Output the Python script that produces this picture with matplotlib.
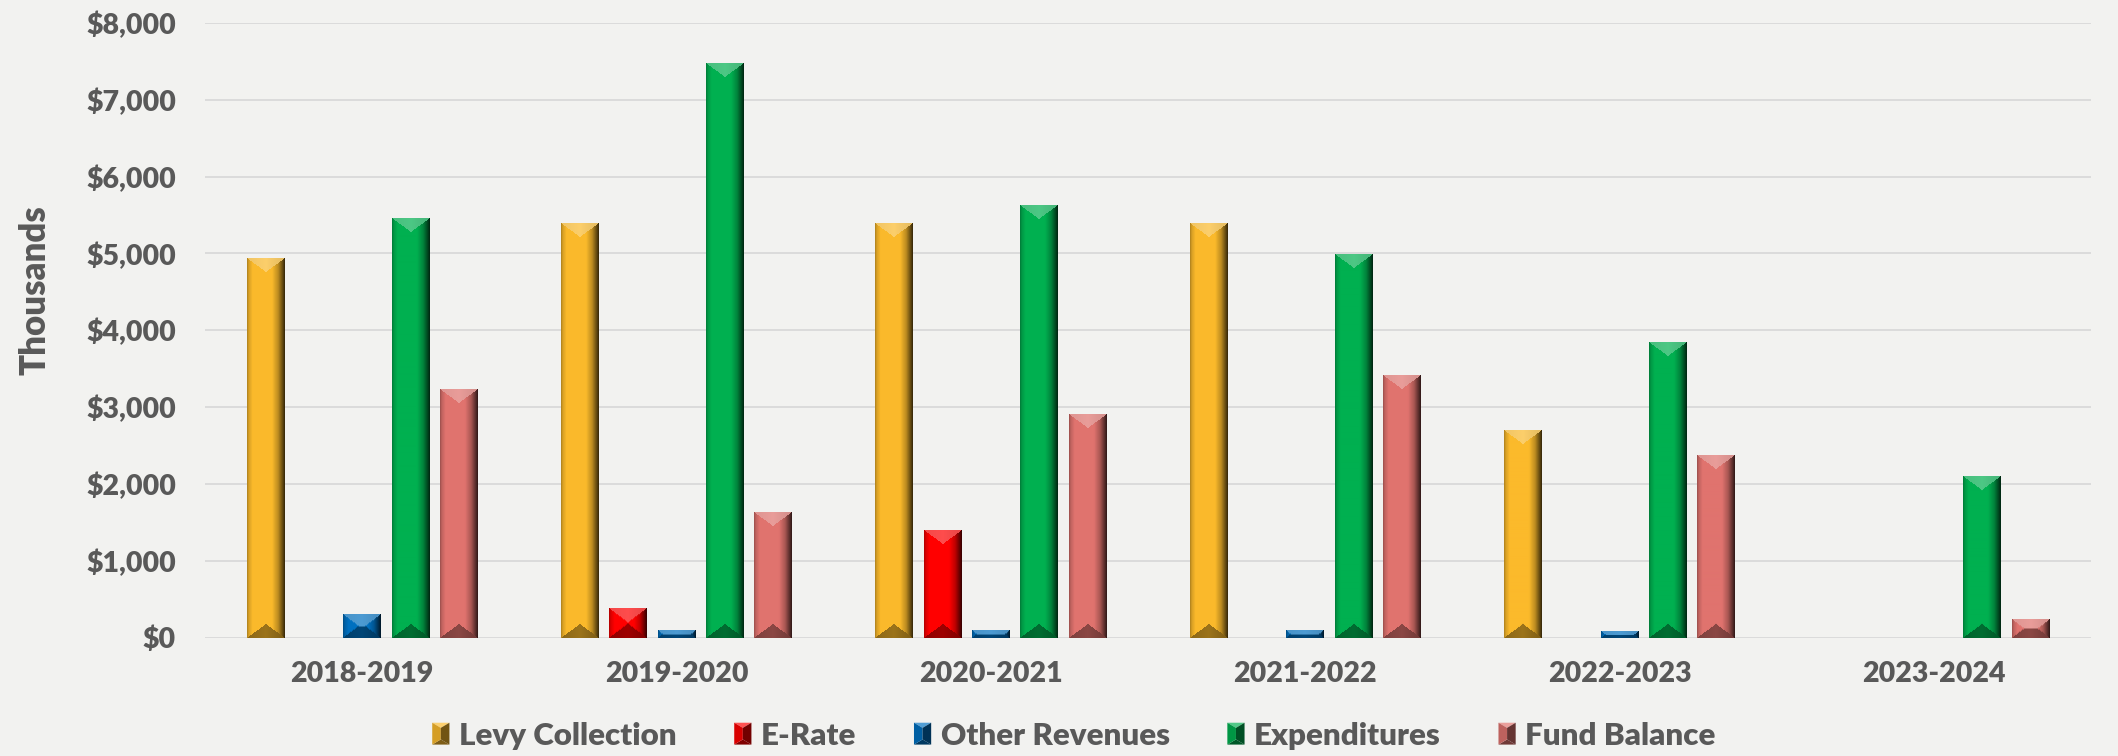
import numpy as np
import matplotlib
matplotlib.use("Agg")
import matplotlib.pyplot as plt
from matplotlib.legend_handler import HandlerBase
from matplotlib.patches import Polygon, Patch
from matplotlib.colors import to_rgb

plt.rcParams['font.family'] = ['Lato', 'DejaVu Sans']
plt.rcParams['font.weight'] = 'heavy'

# ---------------- data ----------------
years = ['2018-2019', '2019-2020', '2020-2021', '2021-2022', '2022-2023', '2023-2024']
series_names = ['Levy Collection', 'E-Rate', 'Other Revenues', 'Expenditures', 'Fund Balance']
levy_collection = [4940, 5400, 5400, 5400, 2700, 0]
e_rate = [0, 380, 1400, 0, 0, 0]
other_revenues = [305, 95, 95, 95, 90, 0]
expenditures = [5460, 7480, 5630, 4990, 3840, 2100]
fund_balance = [3235, 1640, 2910, 3420, 2370, 240]
y_ticks = [0, 1000, 2000, 3000, 4000, 5000, 6000, 7000, 8000]
y_tick_labels = ['$0', '$1,000', '$2,000', '$3,000', '$4,000', '$5,000', '$6,000', '$7,000', '$8,000']
y_label = 'Thousands'

colors = ['#FBBA2B', '#FF0000', '#0070C0', '#00B050', '#E0736E']
bg = '#F2F2F0'
text_color = '#595959'
grid_color = '#D9D9D9'

all_series = [levy_collection, e_rate, other_revenues, expenditures, fund_balance]

fig = plt.figure(figsize=(21.18, 7.56), dpi=100, facecolor=bg)
ax = fig.add_axes([0.0968, 0.1566, 0.8905, 0.8130], facecolor=bg)

x = np.arange(len(years))
step = 0.1537
bar_w = 0.1206
offsets = (np.arange(len(series_names)) - 2) * step

ax.set_xlim(-0.5, len(years) - 0.5)
ax.set_ylim(0, 8000)

px_per_x = ax.bbox.width / (len(years))
px_per_y = ax.bbox.height / 8000.0


def bevel_image(base, w_px, h_px, d=14.0):
    base = np.array(base)
    w = max(int(round(w_px)), 2)
    h = max(int(round(h_px)), 1)
    u = (np.arange(w) + 0.5) / w
    ii = np.arange(h) + 0.5
    U, I = np.meshgrid(u, ii)
    dt = I
    db = h - I
    tri = d * (1 - np.abs(2 * U - 1))
    f = np.interp(U, [0, 0.05, 0.15, 0.66, 0.82, 0.93, 1.0],
                  [0.68, 0.86, 1.0, 1.0, 0.75, 0.42, 0.2])
    img = base[None, None, :] * f[..., None]
    top = (dt < tri) & (dt <= db)
    bot = (db < tri) & (db < dt)
    light = base + (1 - base) * 0.3
    dark = base * 0.62
    ftop = np.interp(U, [0, 0.5, 1.0], [0.95, 1.0, 0.9])
    img[top] = (light[None, :] * ftop[top][:, None])
    fbot = np.interp(U, [0, 0.5, 1.0], [0.9, 1.0, 0.8])
    img[bot] = (dark[None, :] * fbot[bot][:, None])
    return np.clip(img, 0, 1)


for k, (name, vals, col) in enumerate(zip(series_names, all_series, colors)):
    bars = ax.bar(x + offsets[k], vals, width=bar_w, color=col, label=name,
                  zorder=2, linewidth=0)
    base = np.array(to_rgb(col))
    for rect in bars:
        h = rect.get_height()
        if h <= 0:
            continue
        x0 = rect.get_x()
        w = rect.get_width()
        img = bevel_image(base, w * px_per_x, h * px_per_y)
        ax.imshow(img, extent=(x0, x0 + w, 0, h), aspect='auto',
                  interpolation='bilinear', origin='upper', zorder=3)

ax.set_xlim(-0.5, len(years) - 0.5)
ax.set_ylim(0, 8000)
ax.set_aspect('auto')

ax.set_yticks(y_ticks)
ax.set_yticklabels(y_tick_labels)
ax.set_xticks(x)
ax.set_xticklabels(years)
ax.tick_params(axis='y', length=0, pad=21, labelsize=20.5, labelcolor=text_color)
ax.tick_params(axis='x', length=0, pad=17, labelsize=20.5, labelcolor=text_color)
ax.grid(axis='y', color=grid_color, linewidth=1.3, zorder=0)
ax.set_axisbelow(True)
for s in ax.spines.values():
    s.set_visible(False)

ax.set_ylabel(y_label, fontsize=25, color=text_color, fontweight='heavy')
ax.yaxis.set_label_coords(-0.0813, 0.5656)


class BevelHandler(HandlerBase):
    def create_artists(self, legend, orig_handle, xdescent, ydescent, width,
                       height, fontsize, trans):
        base = np.array(to_rgb(orig_handle.get_facecolor()))
        light = base + (1 - base) * 0.32
        dark = base * 0.5
        x0, y0 = -xdescent, -ydescent
        x1, y1 = x0 + width, y0 + height
        cx = (x0 + x1) / 2
        dd = min(width, height) * 0.3
        arts = []
        polys = [
            ([(x0, y1), (x1, y1), (cx, y1 - dd)], light),
            ([(x0, y0), (x1, y0), (cx, y0 + dd)], dark),
            ([(x0, y0), (x0, y1), (cx, y1 - dd), (cx, y0 + dd)], base * 0.85),
            ([(x1, y0), (x1, y1), (cx, y1 - dd), (cx, y0 + dd)], base * 0.45),
        ]
        for pts, col in polys:
            p = Polygon(pts, closed=True, facecolor=np.clip(col, 0, 1),
                        edgecolor='none', transform=trans)
            arts.append(p)
        return arts


handles = [Patch(facecolor=c, label=n) for c, n in zip(colors, series_names)]
leg = fig.legend(handles=handles, labels=series_names, loc='center',
                 bbox_to_anchor=(0.507, 0.027), ncol=5, frameon=False,
                 fontsize=22.5, handlelength=0.55, handleheight=0.7,
                 handletextpad=0.3, columnspacing=1.85,
                 handler_map={Patch: BevelHandler()})
for t in leg.get_texts():
    t.set_color(text_color)
    t.set_fontweight('heavy')

fig.savefig('out.png', dpi=100, facecolor=bg)
